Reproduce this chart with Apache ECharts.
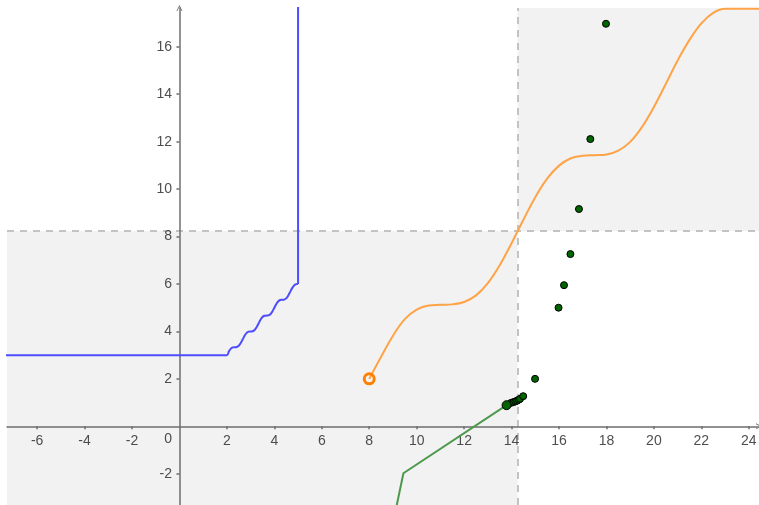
<!DOCTYPE html>
<html><head><meta charset="utf-8">
<script src="https://cdn.jsdelivr.net/npm/echarts@6/dist/echarts.min.js"></script>
<style>html,body{margin:0;padding:0;background:#fff}#c{width:759px;height:505px}</style>
</head><body><div id="c"></div>
<script>
// ---- axis ticks / ranges ----
const xTicks = [-6,-4,-2,2,4,6,8,10,12,14,16,18,20,22,24];
const yTicks = [-2,2,4,6,8,10,12,14,16];
const originLabel = '0';
const xMin = -7.27, xMax = 24.43, yMin = -3.318, yMax = 17.635;
const splitX = 14.25, splitY = 8.23;

// ---- blue curve ----
const blueX = [-8, 2.000,2.083,2.167,2.250,2.333,2.417,2.500,2.583,2.667,2.750,2.833,2.917,
  3.000,3.083,3.167,3.250,3.333,3.417,3.500,3.583,3.667,3.750,3.833,3.917,
  4.000,4.083,4.167,4.250,4.333,4.417,4.500,4.583,4.667,4.750,4.833,4.917,5.000];
const blueY = [3, 3.000,3.158,3.273,3.325,3.333,3.342,3.394,3.508,3.667,3.825,3.939,3.992,
  4.000,4.008,4.061,4.175,4.333,4.492,4.606,4.658,4.667,4.675,4.727,4.842,
  5.000,5.158,5.273,5.325,5.333,5.342,5.394,5.508,5.667,5.825,5.939,5.992,6.000];
const blueVertX = [5.000, 5.000];
const blueVertY = [6.000, 19];

// ---- orange curve ----
const orangeX = [8,8.5,9,9.5,10,10.5,11,11.5,12,12.5,13,13.5,14,14.5,15,15.5,16,16.5,17,17.5,18,18.5,19,19.5,20,20.5,21,21.5,22,22.5,23,23.5,24,24.5];
const orangeY = [2.00,2.93,3.82,4.52,4.92,5.09,5.12,5.14,5.24,5.52,6.04,6.79,7.72,8.71,9.66,10.44,10.99,11.30,11.41,11.43,11.46,11.62,11.99,12.62,13.46,14.43,15.42,16.29,16.99,17.43,17.6,17.6,17.6,17.6];
const orangeStart = [8, 2];

// ---- green polyline ----
const greenX = [9.02, 9.44, 13.79];
const greenY = [-4.0, -1.98, 0.89];

// ---- dark green iteration points ----
const ptsX = [13.98,14.08,14.16,14.23,14.30,14.36,14.49,14.99,15.98,16.21,16.48,16.84,17.32,17.98];
const ptsY = [0.99,1.02,1.05,1.08,1.12,1.16,1.27,2.00,5.00,5.95,7.26,9.16,12.11,16.97];

const zip = (a,b) => a.map((v,i)=>[v,b[i]]);
const font = '"Liberation Sans", Arial, sans-serif';
const axisColor = '#6e6e6e';
const labelColor = '#222';
const labelSize = 14;
const chevron = 'path://M0,10 L5,0 L10,10 L8.6,10 L5,2.8 L1.4,10 Z';

const labelSeries = (data, pos, fmt, offset) => ({
  type: 'scatter', data, symbolSize: 1, silent: true, z: 6,
  itemStyle: {color: 'rgba(0,0,0,0)'},
  label: {show: true, position: pos, distance: 7, offset: offset || [0, 0],
          formatter: fmt, color: labelColor, fontSize: labelSize, fontFamily: font}
});

const chart = echarts.init(document.getElementById('c'), null, {renderer:'canvas'});
chart.setOption({
  animation: false,
  grid: {left: 7, top: 8, right: 0, bottom: 0, containLabel: false, outerBoundsMode: 'none'},
  xAxis: {
    type: 'value', min: xMin, max: xMax, z: 5,
    axisLine: {onZero: true, lineStyle: {color: axisColor, width: 1.5}, symbol: ['none', chevron], symbolSize: [9, 6]},
    axisTick: {show: true, length: 3, customValues: xTicks, lineStyle: {color: axisColor, width: 1.5}},
    axisLabel: {show: false},
    splitLine: {show: false}
  },
  yAxis: {
    type: 'value', min: yMin, max: yMax, z: 5,
    axisLine: {onZero: true, lineStyle: {color: axisColor, width: 1.5}, symbol: ['none', chevron], symbolSize: [9, 6]},
    axisTick: {show: true, length: 3, customValues: yTicks, lineStyle: {color: axisColor, width: 1.5}},
    axisLabel: {show: false},
    splitLine: {show: false}
  },
  series: [
    {
      type: 'line', data: [], z: 1, silent: true,
      markArea: {
        silent: true,
        itemStyle: {color: '#f2f2f2'},
        data: [
          [{coord: [xMin, yMin]}, {coord: [splitX, splitY]}],
          [{coord: [splitX, splitY]}, {coord: [xMax, yMax]}]
        ]
      },
      markLine: {
        silent: true, symbol: ['none', 'none'], label: {show: false},
        lineStyle: {color: '#c3c3c3', width: 2, type: [7, 6]},
        data: [{xAxis: splitX}, {yAxis: splitY}]
      }
    },
    {type: 'line', data: zip(blueX, blueY), showSymbol: false, smooth: 0.3, z: 10,
     lineStyle: {color: '#4d4dff', width: 2}},
    {type: 'line', data: zip(blueVertX, blueVertY), showSymbol: false, z: 10,
     lineStyle: {color: '#4d4dff', width: 2}},
    {type: 'line', data: zip(orangeX, orangeY), showSymbol: false, smooth: 0.4, z: 10,
     lineStyle: {color: '#ffa347', width: 2}},
    {type: 'line', data: zip(greenX, greenY), showSymbol: false, z: 10,
     lineStyle: {color: '#4c994c', width: 2}},
    {type: 'scatter', data: zip(ptsX, ptsY), symbolSize: 7, z: 11,
     itemStyle: {color: '#006400', borderColor: '#000', borderWidth: 1, opacity: 1}},
    {type: 'scatter', data: [[greenX[2], greenY[2]]], symbolSize: 9, z: 11,
     itemStyle: {color: '#006400', borderColor: '#000', borderWidth: 1, opacity: 1}},
    {type: 'scatter', data: [orangeStart], symbolSize: 10, z: 12,
     itemStyle: {color: 'rgba(0,0,0,0)', borderColor: '#ff8000', borderWidth: 3, opacity: 1}},
    labelSeries(xTicks.map(v => [v, 0]), 'bottom', p => String(p.value[0])),
    labelSeries(yTicks.map(v => [0, v]), 'left', p => String(p.value[1])),
    labelSeries([[0, 0]], 'left', () => originLabel, [0, 13])
  ]
});
</script>
</body></html>
